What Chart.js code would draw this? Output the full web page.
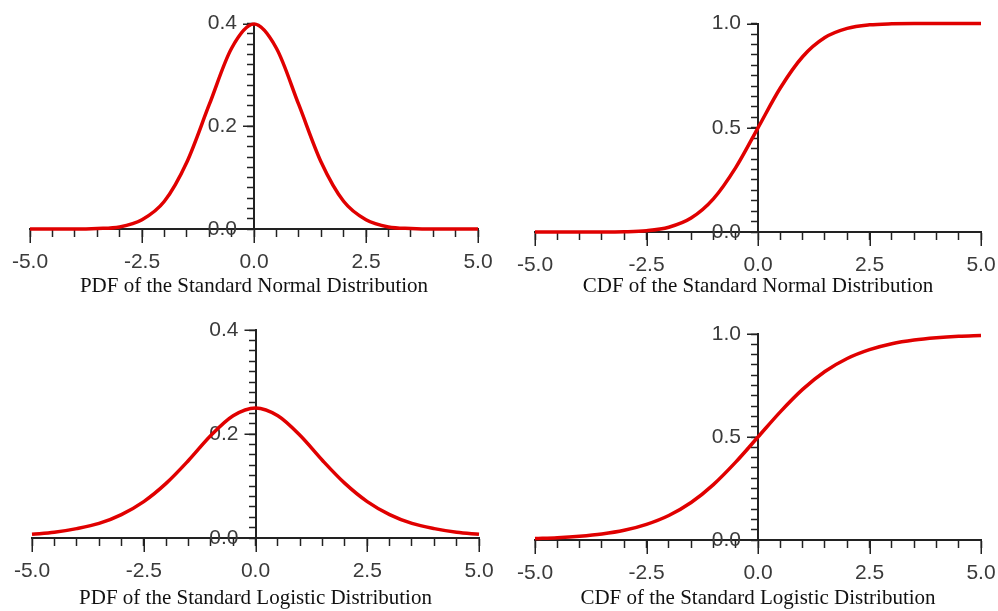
<!DOCTYPE html>
<html>
<head>
<meta charset="utf-8">
<script src="https://cdn.jsdelivr.net/npm/chart.js@4.4.1/dist/chart.umd.min.js"></script>
<style>
  body { margin: 0; background: #fff; }
  .panel { position: absolute; }
</style>
</head>
<body>
<div class="panel" style="left:0;top:0;width:499px;height:305px"><canvas id="c-npdf"></canvas></div>
<div class="panel" style="left:499px;top:0;width:499px;height:305px"><canvas id="c-ncdf"></canvas></div>
<div class="panel" style="left:0;top:305px;width:499px;height:306px"><canvas id="c-lpdf"></canvas></div>
<div class="panel" style="left:499px;top:305px;width:499px;height:306px"><canvas id="c-lcdf"></canvas></div>
<script>
// values, every 0.5 from -5 to 5
const xValues = [-5.0, -4.5, -4.0, -3.5, -3.0, -2.5, -2.0, -1.5, -1.0, -0.5, 0.0,
                 0.5, 1.0, 1.5, 2.0, 2.5, 3.0, 3.5, 4.0, 4.5, 5.0];
const normalPdf = [0.000, 0.000, 0.000, 0.001, 0.004, 0.018, 0.054, 0.130, 0.242, 0.352, 0.399,
                   0.352, 0.242, 0.130, 0.054, 0.018, 0.004, 0.001, 0.000, 0.000, 0.000];
const normalCdf = [0.000, 0.000, 0.000, 0.000, 0.001, 0.006, 0.023, 0.067, 0.159, 0.309, 0.500,
                   0.691, 0.841, 0.933, 0.977, 0.994, 0.999, 1.000, 1.000, 1.000, 1.000];
const logisticPdf = [0.007, 0.011, 0.018, 0.028, 0.045, 0.070, 0.105, 0.149, 0.197, 0.235, 0.250,
                     0.235, 0.197, 0.149, 0.105, 0.070, 0.045, 0.028, 0.018, 0.011, 0.007];
const logisticCdf = [0.007, 0.011, 0.018, 0.029, 0.047, 0.076, 0.119, 0.182, 0.269, 0.378, 0.500,
                     0.622, 0.731, 0.818, 0.881, 0.924, 0.953, 0.971, 0.982, 0.989, 0.993];

const xTickLabels = ['-5.0', '-2.5', '0.0', '2.5', '5.0'];
const pdfTickLabels = ['0.0', '0.2', '0.4'];
const cdfTickLabels = ['0.0', '0.5', '1.0'];

const titles = [
    'PDF of the Standard Normal Distribution',
    'CDF of the Standard Normal Distribution',
    'PDF of the Standard Logistic Distribution',
    'CDF of the Standard Logistic Distribution'
];

const xMajors = xTickLabels.map(Number);

function labelFor(v, majors, labels) {
    const i = majors.findIndex(m => Math.abs(m - v) < 1e-9);
    return i >= 0 ? labels[i] : '';
}

// longer tick marks at the labelled values
const majorTicks = {
    id: 'majorTicks',
    beforeDatasetsDraw(chart, args, opts) {
        const ctx = chart.ctx;
        const xs = chart.scales.x;
        const ys = chart.scales.y;
        const axisY = ys.getPixelForValue(0);
        const axisX = xs.getPixelForValue(0);
        ctx.save();
        ctx.strokeStyle = '#222';
        ctx.lineWidth = 1.5;
        ctx.beginPath();
        xMajors.forEach(v => {
            const px = Math.round(xs.getPixelForValue(v)) + 0.25;
            ctx.moveTo(px, axisY);
            ctx.lineTo(px, axisY + 14);
        });
        opts.yMajors.forEach(v => {
            const py = Math.round(ys.getPixelForValue(v)) + 0.25;
            ctx.moveTo(axisX, py);
            ctx.lineTo(axisX - 11, py);
        });
        ctx.stroke();
        ctx.restore();
    }
};

function makeChart(id, values, yMax, yStep, yLabels, title, pad, axisH, titlePad) {
    const yMajors = yLabels.map(Number);
    return new Chart(document.getElementById(id), {
        type: 'line',
        data: {
            datasets: [{
                data: xValues.map((x, i) => ({ x: x, y: values[i] })),
                borderColor: '#e00000',
                borderWidth: 3.5,
                pointRadius: 0,
                cubicInterpolationMode: 'monotone',
                clip: false
            }]
        },
        options: {
            responsive: true,
            maintainAspectRatio: false,
            animation: false,
            layout: { padding: pad },
            plugins: {
                legend: { display: false },
                tooltip: { enabled: false },
                majorTicks: { yMajors: yMajors }
            },
            scales: {
                x: {
                    type: 'linear',
                    min: -5,
                    max: 5,
                    afterFit: s => { s.height = axisH; },
                    ticks: {
                        stepSize: 0.5,
                        autoSkip: false,
                        maxRotation: 0,
                        padding: 0,
                        color: '#3a3a3a',
                        // tall line box pushes the labels down without extra side padding
                        font: { family: '"Liberation Sans", Arial, sans-serif', size: 21, lineHeight: 2.4 },
                        callback: v => labelFor(v, xMajors, xTickLabels)
                    },
                    grid: { drawOnChartArea: false, tickLength: 8, tickColor: '#222', tickWidth: 1.5 },
                    border: { color: '#222', width: 2 },
                    title: {
                        display: true,
                        text: title,
                        color: '#111',
                        font: { family: '"Liberation Serif", "Times New Roman", serif', size: 21 },
                        padding: { top: 0, bottom: titlePad }
                    }
                },
                y: {
                    type: 'linear',
                    min: 0,
                    max: yMax,
                    // x runs -5..5, so the centre of the plot is x = 0
                    position: 'center',
                    ticks: {
                        stepSize: yStep,
                        autoSkip: false,
                        padding: 11,
                        color: '#3a3a3a',
                        font: { family: '"Liberation Sans", Arial, sans-serif', size: 21 },
                        callback: v => labelFor(v, yMajors, yLabels)
                    },
                    grid: { drawOnChartArea: false, tickLength: 6, tickColor: '#222', tickWidth: 1.5 },
                    border: { color: '#222', width: 2 }
                }
            }
        },
        plugins: [majorTicks]
    });
}

makeChart('c-npdf', normalPdf, 0.4, 0.02, pdfTickLabels, titles[0],
    { left: 30, right: 21, top: 21, bottom: 0 }, 76, 6);
makeChart('c-ncdf', normalCdf, 1.0, 0.05, cdfTickLabels, titles[1],
    { left: 36, right: 17, top: 22, bottom: 0 }, 73, 6);
makeChart('c-lpdf', logisticPdf, 0.4, 0.02, pdfTickLabels, titles[2],
    { left: 32, right: 20, top: 25, bottom: 0 }, 73, 0);
makeChart('c-lcdf', logisticCdf, 1.0, 0.05, cdfTickLabels, titles[3],
    { left: 36, right: 17, top: 29, bottom: 0 }, 71, 0);
</script>
</body>
</html>
